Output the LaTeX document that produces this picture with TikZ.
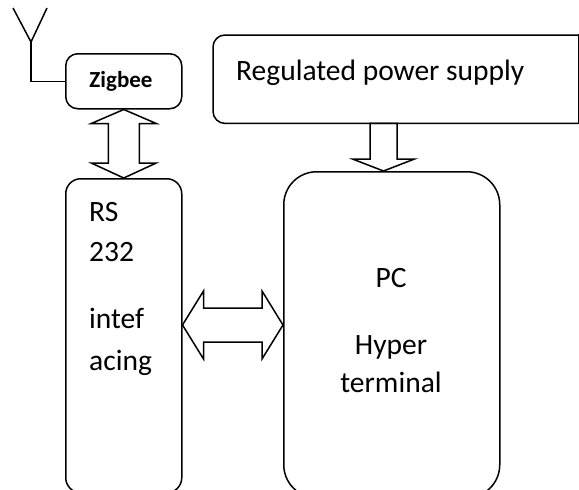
\documentclass[tikz,border=0pt]{standalone}
\usepackage{fontspec}
\setmainfont{Carlito}
\usetikzlibrary{calc}
\begin{document}
\begin{tikzpicture}[x=1pt,y=-1pt,
  box/.style={draw, line width=1.5pt, rounded corners=#1, inner sep=0pt, anchor=north west},
  box/.default=12pt,
  txt/.style={font=\fontsize{29.5}{35}\selectfont, inner sep=0pt},
  boldtxt/.style={font=\fontsize{23}{27}\selectfont\bfseries, inner sep=0pt},
  blockarrow/.style={draw, line width=1.5pt, line join=miter},
  wire/.style={draw, line width=1.5pt}]
\path[use as bounding box, clip] (0,0) rectangle (579,490);

% blocks
\node[box, minimum width=116pt, minimum height=55pt] (zig) at (65,53) {};
\node[box=15pt, minimum width=116pt, minimum height=314pt] (rs) at (65,178) {};
\node[box=33pt, minimum width=216pt, minimum height=326pt] (pc) at (283,171) {};
\node[inner sep=0pt, minimum width=365pt, minimum height=88pt, anchor=north west] (power) at (213,35) {};
\draw[wire, rounded corners=12pt, line cap=rect]
  (power.north east) -- (power.north west) -- (power.south west) -- (power.south east);
\draw[wire, line cap=rect] (power.north east) -- (power.south east);

% antenna
\coordinate (antL) at (13,8);
\coordinate (antR) at (47,8);
\coordinate (ant) at (31,42);
\draw[wire, line join=miter] (antL) -- (ant) -- (antR);
\draw[wire, line join=miter] (ant) -- (ant |- zig.west) -- (zig.west);

% labels
\node[boldtxt, anchor=base] (zigt) at (121,87) {Zigbee};
\node[txt, anchor=base west] (powt) at (236,80) {Regulated power supply};
\node[txt, anchor=base west] (rs1) at (89,221) {RS};
\node[txt, anchor=base west] (rs2) at (89,261) {232};
\node[txt, anchor=base west] (rs3) at (89,328) {intef};
\node[txt, anchor=base west] (rs4) at (89,370) {acing};
\node[txt, anchor=base] (pc1) at (391,287) {PC};
\node[txt, anchor=base] (pc2) at (391,354) {Hyper};
\node[txt, anchor=base] (pc3) at (391,392) {terminal};

% Zigbee <-> RS232 link
\coordinate (vt) at (zig.south);
\coordinate (vb) at (vt |- rs.north);
\draw[blockarrow] (vt) -- ++(32.5,14) -- ++(-17,0) -- ($(vb)+(15.5,-15)$)
  -- ++(17,0) -- (vb) -- ++(-32.5,-15) -- ++(17,0) -- ($(vt)+(-15.5,14)$)
  -- ++(-17,0) -- cycle;

% RS232 <-> PC link
\coordinate (hl) at ($(rs.north east)+(0,147)$);
\coordinate (hr) at (pc.west |- hl);
\draw[blockarrow] (hl) -- ++(21,-34) -- ++(0,17) -- ($(hr)+(-21,-17)$)
  -- ++(0,-17) -- (hr) -- ++(-21,34) -- ++(0,-17) -- ($(hl)+(21,17)$)
  -- ++(0,17) -- cycle;

% power supply -> PC
\coordinate (ps) at ($(power.south west)+(170.5,0)$);
\coordinate (pt) at (ps |- pc.north);
\draw[blockarrow] ($(ps)+(-13.5,0)$) -- ++(27,0) -- ($(pt)+(13.5,-12)$)
  -- ++(17.5,0) -- (pt) -- ++(-31,-12) -- ++(17.5,0) -- cycle;
\end{tikzpicture}
\end{document}
